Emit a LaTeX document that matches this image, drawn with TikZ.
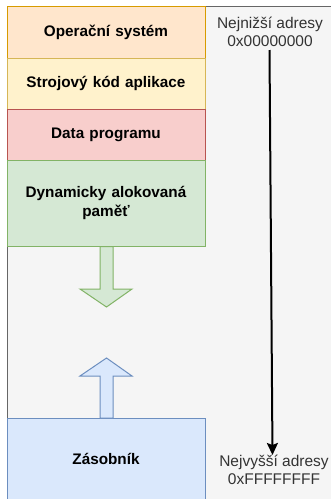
\documentclass[tikz,border=0pt]{standalone}
\usepackage{fontspec}
\setmainfont{Liberation Sans}
\usetikzlibrary{arrows.meta}
\definecolor{bgfill}{HTML}{F5F5F5}
\definecolor{bgline}{HTML}{666666}
\definecolor{osfill}{HTML}{FFE6CC}
\definecolor{osline}{HTML}{D79B00}
\definecolor{kodfill}{HTML}{FFF2CC}
\definecolor{kodline}{HTML}{D6B656}
\definecolor{datafill}{HTML}{F8CECC}
\definecolor{dataline}{HTML}{B85450}
\definecolor{dynfill}{HTML}{D5E8D4}
\definecolor{dynline}{HTML}{82B366}
\definecolor{stfill}{HTML}{DAE8FC}
\definecolor{stline}{HTML}{6C8EBF}
\definecolor{txt}{HTML}{333333}
\tikzset{
  block/.style={draw, line width=1pt, inner sep=0pt, minimum width=198pt,
    font=\fontsize{15.3}{19}\selectfont\bfseries, align=center, text width=190pt},
  addr/.style={inner sep=0pt, align=center, text=txt, font=\fontsize{15.5}{18}\selectfont},
}
\begin{document}
\begin{tikzpicture}[x=1pt,y=-1pt]
\clip (0,0) rectangle (331,499);
\draw[fill=bgfill, draw=bgline, line width=1pt] (7,6) rectangle (345,515);
\node[block, fill=osfill, draw=osline, minimum height=52pt] (os) at (106,32) {Operační systém};
\node[block, fill=kodfill, draw=kodline, minimum height=51pt] (kod) at (106,83.5) {Strojový kód aplikace};
\node[block, fill=datafill, draw=dataline, minimum height=51pt] (data) at (106,134.5) {Data programu};
\node[block, fill=dynfill, draw=dynline, minimum height=86pt] (dyn) at (106,203) {Dynamicky alokovaná\\paměť};
\node[block, fill=stfill, draw=stline, minimum height=82pt] (st) at (106,459) {Zásobník};
% block arrows
\draw[fill=dynfill, draw=dynline, line width=1pt]
  (100,246.5) -- (113,246.5) -- (113,289) -- (132,289) -- (106.5,307) -- (80,289) -- (100,289) -- cycle;
\draw[fill=stfill, draw=stline, line width=1pt]
  (100,418) -- (113,418) -- (113,376) -- (132,376) -- (106.5,358) -- (80,376) -- (100,376) -- cycle;
% address labels
\node[addr] (lo) at (270,32) {Nejnižší adresy\\0x00000000};
\node[addr] (hi) at (274,470) {Nejvyšší adresy\\0xFFFFFFFF};
\coordinate (a1) at (269.5,50);
\coordinate (a2) at (272.5,455);
\draw[line width=2pt, -{Stealth[length=12pt,width=11pt,inset=2pt]}] (a1) -- (a2);
\end{tikzpicture}
\end{document}
